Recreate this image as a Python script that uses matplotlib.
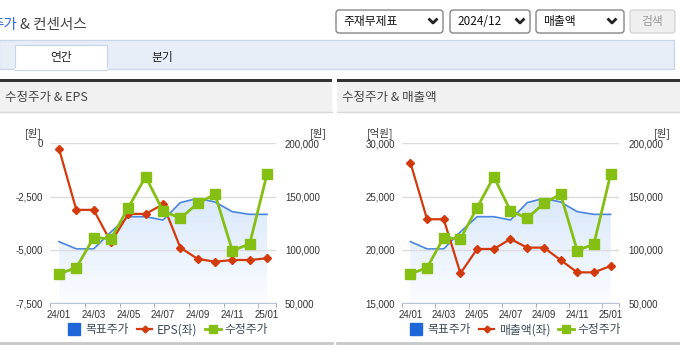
import matplotlib
matplotlib.use("Agg")
import matplotlib.pyplot as plt
import numpy as np
from matplotlib.patches import Rectangle, FancyBboxPatch
from matplotlib.lines import Line2D

plt.rcParams['font.family'] = ['Noto Sans CJK KR', 'DejaVu Sans']

# data
months = ['24/01', '24/02', '24/03', '24/04', '24/05', '24/06', '24/07',
          '24/08', '24/09', '24/10', '24/11', '24/12', '25/01']
target_price = [107800, 101000, 101000, 117000, 131200, 131200, 128100,
                144400, 148400, 145000, 135900, 133400, 133400]
adj_price = [77500, 83400, 111600, 110500, 139700, 168700, 136600,
             129700, 143700, 152200, 99400, 105600, 171000]
eps = [-260, -3120, -3120, -4640, -3310, -3310, -2860,
       -4890, -5420, -5550, -5470, -5470, -5390]
sales = [28190, 22880, 22880, 17810, 20090, 20090, 21030,
         20220, 20220, 19060, 17900, 17900, 18500]

price_ticks = [50000, 100000, 150000, 200000]
eps_ticks = [-7500, -5000, -2500, 0]
sales_ticks = [15000, 20000, 25000, 30000]

W, H = 680, 354
NUM_FONT = ['Liberation Sans Narrow', 'Liberation Sans', 'DejaVu Sans']
RED = '#d23a0c'
GREEN = '#86bf14'
BLUE = '#4a86e0'
TXT = '#333333'

fig = plt.figure(figsize=(W / 100, H / 100), dpi=100)
base = fig.add_axes([0, 0, 1, 1], zorder=0)
base.set_xlim(0, W)
base.set_ylim(H, 0)
base.axis('off')


def rect(x0, y0, x1, y1):
    return [x0 / W, 1 - y1 / H, (x1 - x0) / W, (y1 - y0) / H]


# page header (the blue word is cut by the left edge in the original)
base.text(17, 25, '주가', color='#2f6fd8', fontsize=10.5, va='center', ha='right')
base.text(20, 25, '& 컨센서스', color='#444444', fontsize=10.5, va='center')

boxes = [(336, 443, '주재무제표', 433), (450, 530, '2024/12', 520), (536, 624, '매출액', 612)]
for bx0, bx1, label, chev in boxes:
    base.add_patch(FancyBboxPatch((bx0, 10), bx1 - bx0, 23,
                                  boxstyle='round,pad=0,rounding_size=3',
                                  fc='white', ec='#7a7a7a', lw=0.9))
    base.text(bx0 + 7, 21.5, label, fontsize=8.5, color='#111111', va='center')
    base.plot([chev - 3.5, chev, chev + 3.5], [19.5, 23, 19.5], color='#222222', lw=2)
base.add_patch(FancyBboxPatch((630, 10), 45, 23, boxstyle='round,pad=0,rounding_size=3',
                              fc='#efefef', ec='#d2d2d2', lw=0.9))
base.text(652.5, 21.5, '검색', fontsize=8.5, color='#9a9a9a', va='center', ha='center')

# tab bar
base.add_patch(Rectangle((-1, 40), 675, 29, fc='#e8eef8', ec='#c9d5e8', lw=0.9))
base.add_patch(Rectangle((15, 45), 92, 25, fc='white', ec='#c9d5e8', lw=0.9))
base.plot([15.5, 106.5], [69.3, 69.3], color='white', lw=1.5)
base.text(61, 57, '연간', fontsize=8.5, color='#222222', ha='center', va='center')
base.text(162, 57, '분기', fontsize=8.5, color='#222222', ha='center', va='center')


def draw_panel(px0, px1, title, left_vals, left_ticks, left_unit, left_name, ax_px):
    # panel header and bottom border
    base.add_patch(Rectangle((px0, 79), px1 - px0, 2.5, fc='#333333', ec='none'))
    base.add_patch(Rectangle((px0, 81.5), px1 - px0, 30.5, fc='#f1f1f1', ec='none'))
    base.plot([px0, px1], [112, 112], color='#d8d8d8', lw=1)
    base.plot([px0, px1], [343, 343], color='#c8c8c8', lw=2)
    base.text(px0 + 5, 97, title, fontsize=9, color='#444444', va='center')

    x = np.arange(len(months))
    ax0, ay0, ax1, ay1 = ax_px

    pr = fig.add_axes(rect(ax0, ay0, ax1, ay1), zorder=1)
    ax = fig.add_axes(rect(ax0, ay0, ax1, ay1), zorder=2, sharex=pr)
    gr = fig.add_axes(rect(ax0, ay0, ax1, ay1), zorder=3, sharex=pr, sharey=pr)
    for a in (pr, ax, gr):
        a.patch.set_visible(False)
        for s in a.spines.values():
            s.set_visible(False)

    # target price area with gradient
    top = max(target_price)
    grad = np.linspace(0, 1, 256).reshape(-1, 1)
    c_top = np.array([0.85, 0.91, 0.985])
    c_bot = np.array([0.985, 0.99, 1.0])
    img = (c_bot + (c_top - c_bot) * grad[..., None]).reshape(256, 1, 3)
    im = pr.imshow(img, extent=[x[0], x[-1], price_ticks[0], top], origin='lower',
                   aspect='auto', zorder=1)
    poly = pr.fill_between(x, target_price, price_ticks[0], facecolor='none', edgecolor='none')
    im.set_clip_path(poly.get_paths()[0], transform=pr.transData)
    pr.set_xlim(-0.52, len(months) - 0.48)
    pr.set_ylim(price_ticks[0], price_ticks[-1])
    pr.plot(x, target_price, color=BLUE, lw=1.2, zorder=2)

    # left-axis series
    ax.set_ylim(left_ticks[0], left_ticks[-1])
    ax.set_yticks(left_ticks)
    ax.set_yticklabels([f'{v:,}' for v in left_ticks], fontfamily=NUM_FONT,
                       fontsize=7, color=TXT)
    ax.grid(axis='y', color='#dcdcdc', lw=1)
    ax.set_axisbelow(True)
    ax.plot(x, left_vals, color=RED, lw=1.6, marker='D', ms=4.2, zorder=3)
    ax.spines['bottom'].set_visible(True)
    ax.spines['bottom'].set_color('#b8c4d4')
    ax.tick_params(axis='y', length=0, pad=5)
    ax.set_xticks(x[::2])
    ax.set_xticklabels(months[::2], fontfamily=NUM_FONT, fontsize=7, color=TXT)
    ax.set_xticks(np.arange(-0.5, len(months), 2).tolist() + [len(months) - 0.5], minor=True)
    ax.tick_params(axis='x', which='major', length=0, pad=4.5)
    ax.tick_params(axis='x', which='minor', length=3.5, color='#b8c4d4')

    # adjusted price on top
    gr.plot(x, adj_price, color=GREEN, lw=2, marker='s', ms=7.5, zorder=4)
    gr.yaxis.tick_right()
    gr.set_yticks(price_ticks)
    gr.set_yticklabels([f'{v:,}' for v in price_ticks], fontfamily=NUM_FONT,
                       fontsize=7, color=TXT)
    gr.tick_params(axis='y', length=0, pad=6.5)
    gr.tick_params(axis='x', which='both', length=0, labelbottom=False)
    pr.tick_params(left=False, bottom=False, labelleft=False, labelbottom=False)

    # unit labels
    base.text(ax0 - 8, 133, left_unit, fontsize=7.5, color=TXT, ha='right', va='center')
    base.text(ax1 + 51, 133, '[원]', fontsize=7.5, color=TXT, ha='right', va='center')

    handles = [
        Line2D([], [], color='#1f66d9', marker='s', ls='none', ms=9),
        Line2D([], [], color=RED, marker='D', ms=3.5, lw=1.6),
        Line2D([], [], color=GREEN, marker='s', ms=5.5, lw=2),
    ]
    gr.legend(handles, ['목표주가', left_name, '수정주가'], loc='center',
              bbox_to_anchor=((ax0 + ax1) / 2 / W + 0.006, 1 - 330 / H),
              bbox_transform=fig.transFigure, ncol=3, frameon=False,
              handlelength=1.3, handletextpad=0.35, columnspacing=0.7,
              fontsize=8.5, labelcolor='#3a4a5c', borderpad=0)


draw_panel(0, 332, '수정주가 & EPS', eps, eps_ticks, '[원]', 'EPS(좌)',
           (50, 143.3, 276, 303.3))
draw_panel(337, 680, '수정주가 & 매출액', sales, sales_ticks, '[억원]', '매출액(좌)',
           (401.7, 143.3, 619.3, 303.3))

fig.savefig('out.png', dpi=100)
